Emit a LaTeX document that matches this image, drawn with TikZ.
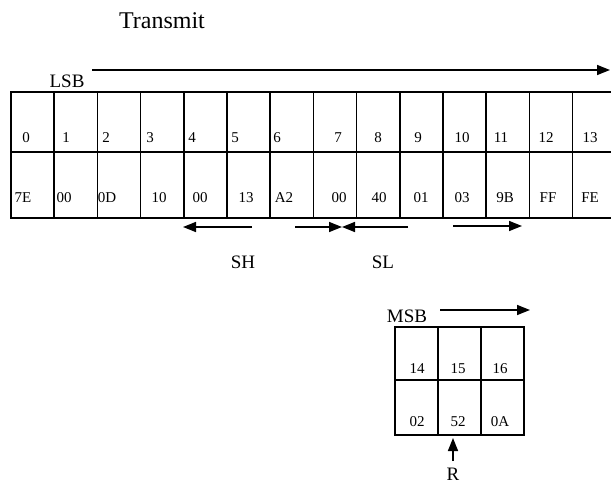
\documentclass[tikz,border=0pt]{standalone}
\usepackage{fontspec}
\setmainfont{Liberation Serif}
\usetikzlibrary{arrows.meta}

\tikzset{
  cell/.style={font=\fontsize{15}{15}\selectfont, anchor=base, inner sep=0pt},
  tag/.style={font=\fontsize{19}{19}\selectfont, inner sep=0pt},
  frame/.style={line width=2pt},
  rule/.style={line width=1.5pt},
  flow/.style={line width=1.5pt, -{Triangle[length=13pt,width=10pt]}},
}

\begin{document}
\begin{tikzpicture}[x=1pt,y=-1pt]
\useasboundingbox (0,0) rectangle (611,484);

\node[font=\fontsize{24}{24}\selectfont, anchor=base] (title) at (162,29) {Transmit};

% byte order, first frame
\node[tag] (lsb) at (67,81) {LSB};
\coordinate (lsbstart) at (92,70);
\coordinate (lsbend) at (610,70);
\draw[flow] (lsbstart) -- (lsbend);

% main frame
\draw[frame] (11,92) rectangle (616,218);
\draw[rule] (11,152) -- (616,152);
\foreach \i in {1,...,13}
  \draw[rule] (11+43.2*\i,92) -- (11+43.2*\i,218);

\foreach \i/\xa/\xb/\v in {0/26/23/7E, 1/66/64/00, 2/106/107/0D, 3/150/159/10,
    4/192/200/00, 5/235/246/13, 6/277/284/A2, 7/338/339/00, 8/378/379/40,
    9/418/421/01, 10/462/462/03, 11/501/505/9B, 12/546/548/FF, 13/590/590/FE}{
  \node[cell] (n\i) at (\xa,143) {\i};
  \node[cell] (v\i) at (\xb,203) {\v};
}

% shift arrows
\coordinate (shtail) at (252,227);
\coordinate (shtip) at (183,227);
\coordinate (sltail) at (295,227);
\coordinate (meet) at (342,227);
\coordinate (sltail2) at (408,227);
\coordinate (rtail) at (453,226);
\coordinate (rtip) at (522,226);
\draw[flow] (shtail) -- (shtip);
\draw[flow] (sltail) -- (meet);
\draw[flow] (sltail2) -- (meet);
\draw[flow] (rtail) -- (rtip);

\node[tag] (sh) at (243,262) {SH};
\node[tag] (sl) at (383,262) {SL};

% byte order, second frame
\node[tag] (msb) at (407,316) {MSB};
\coordinate (msbstart) at (440,310);
\coordinate (msbend) at (530,310);
\draw[flow] (msbstart) -- (msbend);

\draw[frame] (395,327) rectangle (524,435);
\draw[rule] (395,380) -- (524,380);
\draw[rule] (438,327) -- (438,435);
\draw[rule] (481,327) -- (481,435);

\foreach \i/\x/\v in {14/417/02, 15/458/52, 16/500/0A}{
  \node[cell] (n\i) at (\x,373) {\i};
  \node[cell] (v\i) at (\x,426) {\v};
}

% read pointer
\node[tag] (r) at (453,474) {R};
\coordinate (rbase) at (453,461);
\coordinate (rptr) at (453,438);
\draw[flow] (rbase) -- (rptr);
\end{tikzpicture}
\end{document}
